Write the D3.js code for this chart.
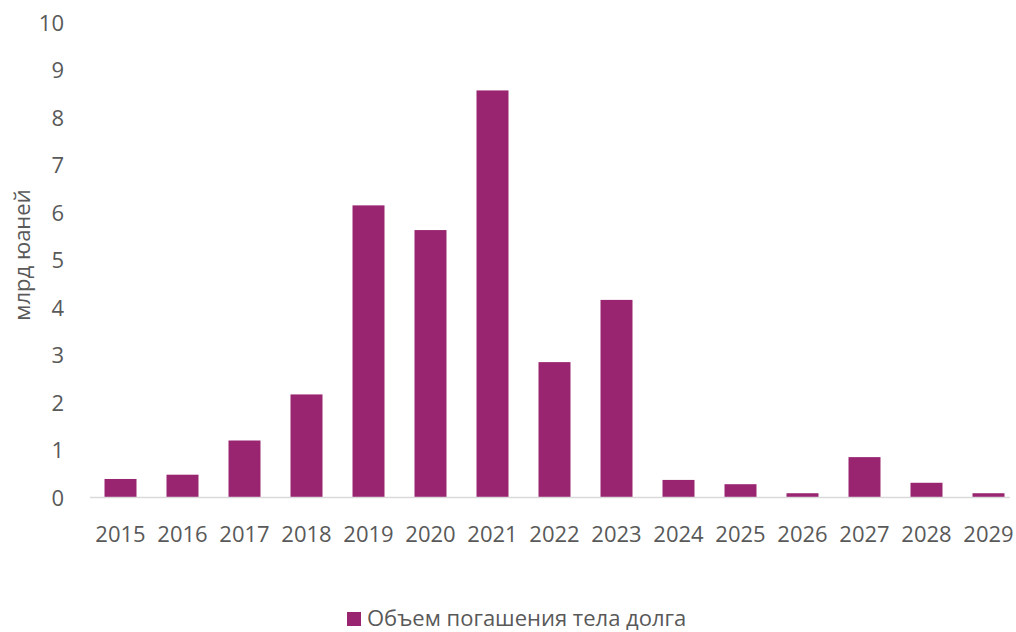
<!DOCTYPE html>
<html>
<head>
<meta charset="utf-8">
<script src="https://cdn.jsdelivr.net/npm/d3@7"></script>
<style>
  html, body { margin: 0; padding: 0; background: #fff; }
  svg { display: block; }
  text { font-family: "Open Sans", "Noto Sans", sans-serif; fill: #595959; }
</style>
</head>
<body>
<svg id="chart" width="1016" height="632"></svg>
<script>
// Debt principal repayment schedule, billion yuan
const years = ["2015","2016","2017","2018","2019","2020","2021","2022","2023","2024","2025","2026","2027","2028","2029"];
const repayment = [0.39, 0.48, 1.2, 2.17, 6.15, 5.63, 8.57, 2.85, 4.16, 0.37, 0.28, 0.09, 0.85, 0.31, 0.09];
const yTicks = [0,1,2,3,4,5,6,7,8,9,10];
const seriesName = "Объем погашения тела долга";
const yTitle = "млрд юаней";

const barColor = "#992570";
const fontSize = "22px";
const svg = d3.select("#chart");

const x = d3.scaleBand().domain(years).range([89.5, 1019.5]).paddingInner(0.484).paddingOuter(0.242);
const y = d3.scaleLinear().domain([0, 10]).range([497.5, 22.5]);

// value axis labels (no line, no ticks)
const yAxis = svg.append("g").attr("transform", "translate(64,0)")
  .call(d3.axisLeft(y).tickValues(yTicks).tickSize(0).tickPadding(0));
yAxis.select(".domain").remove();
yAxis.selectAll("text").style("font-size", fontSize).attr("fill", "#595959")
  .attr("font-family", "Open Sans, Noto Sans, sans-serif").attr("dy", "0.35em");

// bars
svg.append("g").selectAll("rect").data(years).join("rect")
  .attr("x", d => x(d))
  .attr("width", x.bandwidth())
  .attr("y", (d, i) => y(repayment[i]))
  .attr("height", (d, i) => y(0) - y(repayment[i]))
  .attr("fill", barColor);

// category axis
const xAxis = svg.append("g").attr("transform", `translate(0,${y(0)})`)
  .call(d3.axisBottom(x).tickSize(0).tickPadding(37));
xAxis.select(".domain").attr("stroke", "#d9d9d9").attr("stroke-width", 1.5)
  .attr("d", "M90,0H1010");
xAxis.selectAll("text").style("font-size", fontSize).attr("fill", "#595959")
  .attr("font-family", "Open Sans, Noto Sans, sans-serif").attr("dy", "0.35em");

// axis title
svg.append("text")
  .attr("transform", "translate(22,255) rotate(-90)")
  .attr("text-anchor", "middle")
  .attr("dy", "0.35em")
  .style("font-size", fontSize)
  .text(yTitle);

// legend
const legend = svg.append("g").attr("transform", "translate(347,618)");
legend.append("rect").attr("x", 0).attr("y", -6).attr("width", 14).attr("height", 14).attr("fill", barColor);
legend.append("text").attr("x", 20).attr("dy", "0.35em").style("font-size", fontSize).text(seriesName);
</script>
</body>
</html>
